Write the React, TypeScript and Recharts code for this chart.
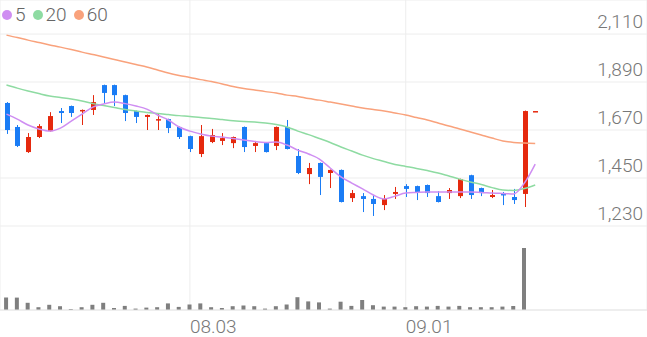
import React from 'react';
import { ComposedChart, Bar, Line, XAxis, YAxis, CartesianGrid } from 'recharts';

const dates = [
  '07.11', '07.12', '07.13', '07.14', '07.15', '07.18', '07.19', '07.20', '07.21', '07.22',
  '07.25', '07.26', '07.27', '07.28', '07.29', '08.01', '08.02', '08.03', '08.04', '08.05',
  '08.08', '08.09', '08.10', '08.11', '08.12', '08.16', '08.17', '08.18', '08.19', '08.22',
  '08.23', '08.24', '08.25', '08.26', '08.29', '08.30', '08.31', '09.01', '09.02', '09.05',
  '09.06', '09.07', '09.08', '09.13', '09.14', '09.15', '09.16', '09.19', '09.20', '09.21',
];

const opens = [
  1794, 1684, 1569, 1638, 1665, 1757, 1780, 1757, 1762, 1876,
  1876, 1830, 1757, 1730, 1716, 1720, 1684, 1642, 1560, 1615,
  1620, 1610, 1684, 1597, 1610, 1597, 1684, 1551, 1468, 1519,
  1473, 1487, 1358, 1367, 1354, 1326, 1377, 1413, 1413, 1418,
  1367, 1381, 1367, 1463, 1404, 1363, 1377, 1363, 1377, 1757,
];
const highs = [
  1798, 1693, 1656, 1697, 1752, 1771, 1782, 1764, 1830, 1878,
  1878, 1832, 1759, 1741, 1748, 1722, 1686, 1644, 1693, 1675,
  1656, 1640, 1686, 1620, 1612, 1686, 1716, 1583, 1519, 1521,
  1489, 1489, 1395, 1381, 1372, 1372, 1409, 1422, 1415, 1420,
  1390, 1404, 1447, 1465, 1406, 1395, 1386, 1400, 1759, 1757,
];
const lows = [
  1652, 1592, 1565, 1633, 1663, 1702, 1730, 1693, 1739, 1794,
  1780, 1711, 1702, 1670, 1670, 1656, 1629, 1569, 1546, 1610,
  1601, 1587, 1569, 1569, 1567, 1578, 1581, 1468, 1422, 1372,
  1404, 1338, 1340, 1294, 1276, 1303, 1354, 1363, 1349, 1363,
  1338, 1354, 1358, 1354, 1367, 1358, 1326, 1331, 1317, 1757,
];
const closes = [
  1670, 1597, 1638, 1688, 1734, 1748, 1748, 1762, 1798, 1840,
  1830, 1748, 1730, 1739, 1720, 1679, 1638, 1583, 1642, 1647,
  1633, 1638, 1592, 1610, 1569, 1684, 1583, 1473, 1496, 1455,
  1487, 1340, 1381, 1354, 1331, 1354, 1386, 1400, 1386, 1381,
  1340, 1395, 1445, 1372, 1381, 1372, 1372, 1349, 1757, 1757,
];
const volumes = [
  1240, 1240, 720, 280, 520, 380, 100, 280, 520, 720,
  200, 410, 140, 240, 280, 660, 310, 550, 660, 280,
  200, 380, 450, 380, 140, 380, 550, 1280, 860, 760,
  140, 830, 410, 1000, 480, 340, 340, 280, 380, 340,
  410, 340, 410, 280, 280, 280, 340, 410, 6200, 0,
];

const ma5 = [
  1743, 1720, 1693, 1675, 1665, 1679, 1711, 1743, 1775, 1789,
  1798, 1791, 1780, 1766, 1739, 1716, 1684, 1665, 1652, 1642,
  1638, 1631, 1624, 1617, 1613, 1615, 1601, 1578, 1560, 1537,
  1496, 1455, 1427, 1400, 1372, 1354, 1367, 1381, 1384, 1386,
  1386, 1386, 1386, 1386, 1384, 1381, 1379, 1377, 1427, 1514,
];
const ma20 = [
  1876, 1862, 1849, 1837, 1826, 1819, 1812, 1803, 1791, 1782,
  1773, 1764, 1757, 1750, 1746, 1741, 1736, 1732, 1727, 1723,
  1718, 1713, 1709, 1707, 1702, 1695, 1684, 1665, 1649, 1631,
  1613, 1592, 1574, 1555, 1539, 1526, 1512, 1503, 1494, 1484,
  1473, 1459, 1445, 1432, 1420, 1406, 1395, 1393, 1402, 1418,
];
const ma60 = [
  2105, 2094, 2082, 2071, 2060, 2050, 2039, 2027, 2016, 2005,
  1993, 1982, 1970, 1959, 1945, 1931, 1920, 1911, 1901, 1892,
  1881, 1869, 1860, 1853, 1846, 1840, 1830, 1824, 1814, 1807,
  1798, 1789, 1780, 1771, 1764, 1757, 1748, 1739, 1727, 1716,
  1702, 1688, 1675, 1661, 1647, 1633, 1620, 1613, 1610, 1608,
];

const priceTicks = [1230, 1450, 1670, 1890, 2110];
const dateTicks = ['08.03', '09.01'];

const RED = '#e5290e';
const BLUE = '#1a7cf5';
const GRID = '#ededed';
const TEXT = '#777';
const FONT = 'Roboto, "Noto Sans", sans-serif';

const data = dates.map((d, i) => ({
  i,
  date: d,
  open: opens[i],
  high: highs[i],
  low: lows[i],
  close: closes[i],
  range: [lows[i], highs[i]],
  vol: volumes[i],
  ma5: ma5[i],
  ma20: ma20[i],
  ma60: ma60[i],
}));

const Candle = (props: any) => {
  const { x, y, width, height, payload } = props;
  if (x == null || y == null) return null;
  const { open, close, high, low } = payload;
  const color = close >= open ? RED : BLUE;
  const top = Math.min(y, y + height);
  const h = Math.abs(height);
  const span = high - low;
  const toY = (v: number) => (span === 0 ? top : top + ((high - v) / span) * h);
  const bodyTop = toY(Math.max(open, close));
  const bodyBot = toY(Math.min(open, close));
  const cx = Math.round(x + width / 2);
  return (
    <g>
      {h > 0 && <line x1={cx + 0.5} x2={cx + 0.5} y1={top} y2={top + h} stroke={color} strokeWidth={1} />}
      <rect x={cx - 2} y={bodyTop} width={5} height={Math.max(bodyBot - bodyTop, 1.5)} fill={color} />
    </g>
  );
};

const PriceTick = ({ y, payload }: any) => (
  <text x={643} y={y - 6} textAnchor="end" fill={TEXT} fontSize={19} fontWeight={300} fontFamily={FONT}>
    {Number(payload.value).toLocaleString('en-US')}
  </text>
);

const DateTick = ({ x, payload }: any) => (
  <text x={x} y={333} textAnchor="start" fill={TEXT} fontSize={19} fontWeight={300} fontFamily={FONT}>
    {dates[payload.value]}
  </text>
);

const legendItems = [
  { label: '5', color: '#cf8ef2' },
  { label: '20', color: '#8edba2' },
  { label: '60', color: '#f9a27c' },
];

export default function App() {
  const xTicks = dateTicks.map(d => dates.indexOf(d));
  return (
    <div style={{ position: 'absolute', left: 0, top: 0, width: 647, height: 337, background: '#fff' }}>
      <ComposedChart width={647} height={337} data={data} margin={{ top: 0, right: 0, bottom: 0, left: 0 }}>
        <CartesianGrid xAxisId="x" yAxisId="price" stroke={GRID} strokeWidth={1} />
        <XAxis
          xAxisId="x"
          dataKey="i"
          type="number"
          domain={[-0.6, 59.36]}
          allowDataOverflow
          ticks={xTicks}
          tick={<DateTick />}
          tickLine={false}
          axisLine={{ stroke: '#e6e6e6' }}
          height={27}
        />
        <XAxis xAxisId="xv" dataKey="i" type="number" domain={[-0.6, 59.36]} allowDataOverflow hide />
        <YAxis
          yAxisId="price"
          orientation="right"
          mirror
          domain={[845, 2266]}
          allowDataOverflow
          ticks={priceTicks}
          tick={<PriceTick />}
          tickLine={false}
          axisLine={false}
        />
        <YAxis yAxisId="vol" domain={[0, 31000]} allowDataOverflow hide />
        <Bar xAxisId="xv" yAxisId="vol" dataKey="vol" fill="#7f7f7f" barSize={4} isAnimationActive={false} />
        <Line xAxisId="x" yAxisId="price" type="monotone" dataKey="ma60" stroke="#f9a27c" strokeWidth={1.5} dot={false} activeDot={false} isAnimationActive={false} />
        <Line xAxisId="x" yAxisId="price" type="monotone" dataKey="ma20" stroke="#8edba2" strokeWidth={1.5} dot={false} activeDot={false} isAnimationActive={false} />
        <Line xAxisId="x" yAxisId="price" type="monotone" dataKey="ma5" stroke="#cf8ef2" strokeWidth={1.5} dot={false} activeDot={false} isAnimationActive={false} />
        <Bar xAxisId="x" yAxisId="price" dataKey="range" barSize={5} shape={<Candle />} activeBar={false} isAnimationActive={false} />
      </ComposedChart>
      <div style={{ position: 'absolute', left: 2, top: 3, display: 'flex', alignItems: 'center', fontFamily: FONT, fontWeight: 300, fontSize: 19, color: '#666', lineHeight: '24px' }}>
        {legendItems.map(it => (
          <span key={it.label} style={{ display: 'flex', alignItems: 'center', marginRight: 7 }}>
            <span style={{ width: 10, height: 10, borderRadius: 5, background: it.color, display: 'inline-block', marginRight: 3 }} />
            {it.label}
          </span>
        ))}
      </div>
    </div>
  );
}
